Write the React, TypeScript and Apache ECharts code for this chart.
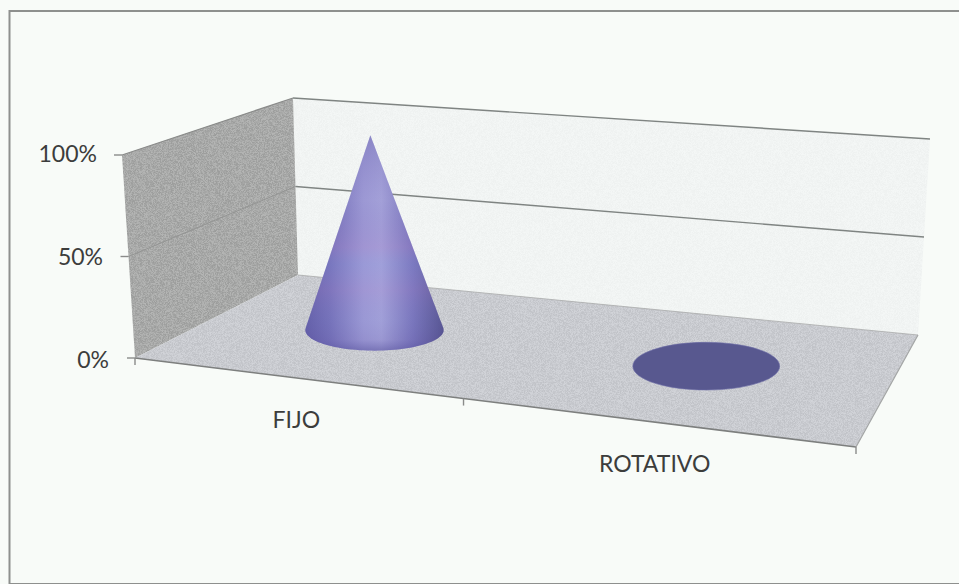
import React, { useEffect, useRef } from "react";
import * as echarts from "echarts";

const categories = ["FIJO", "ROTATIVO"];
const shares = [1, 0];
const yTicks = [0, 0.5, 1];

const PAPER = "#f8fbf8";
const FONT = "Lato, 'Open Sans', sans-serif";
const INK = "#3c3d3c";

// Layout of the printed 3-D box: floor corners and the height vector at each corner.
const FL = [135, 358], FR = [856, 447], BR = [918, 335], BL = [298, 275];
const H_FL = [-13, -203], H_FR = [25, -222], H_BR = [12, -196], H_BL = [-5, -177];

const dx1 = FR[0] - BR[0], dx2 = BL[0] - BR[0], sx = FL[0] - FR[0] + BR[0] - BL[0];
const dy1 = FR[1] - BR[1], dy2 = BL[1] - BR[1], sy = FL[1] - FR[1] + BR[1] - BL[1];
const den = dx1 * dy2 - dx2 * dy1;
const g = (sx * dy2 - dx2 * sy) / den, h = (dx1 * sy - sx * dy1) / den;
const a = FR[0] - FL[0] + g * FR[0], b = BL[0] - FL[0] + h * BL[0];
const d = FR[1] - FL[1] + g * FR[1], e = BL[1] - FL[1] + h * BL[1];

function floor(u: number, w: number) {
  const k = g * u + h * w + 1;
  return [(a * u + b * w + FL[0]) / k, (d * u + e * w + FL[1]) / k];
}
function project(u: number, w: number, v: number) {
  const p = floor(u, w);
  const hx = (1 - u) * ((1 - w) * H_FL[0] + w * H_BL[0]) + u * ((1 - w) * H_FR[0] + w * H_BR[0]);
  const hy = (1 - u) * ((1 - w) * H_FL[1] + w * H_BL[1]) + u * ((1 - w) * H_FR[1] + w * H_BR[1]);
  return [p[0] + hx * v, p[1] + hy * v];
}

const GRID = { left: 135, top: 155, width: 721, height: 203 };

// Scanner-grain fill, a fixed pattern from a small congruential sequence.
function grain(base: number[], amp: number, seedStart: number) {
  const size = 96;
  const c = document.createElement("canvas");
  c.width = size;
  c.height = size;
  const ctx = c.getContext("2d")!;
  const img = ctx.createImageData(size, size);
  let seed = seedStart;
  for (let i = 0; i < size * size; i++) {
    seed = (seed * 1664525 + 1013904223) % 4294967296;
    const n = (seed / 4294967296 - 0.5) * 2 * amp;
    img.data[i * 4] = base[0] + n;
    img.data[i * 4 + 1] = base[1] + n;
    img.data[i * 4 + 2] = base[2] + n;
    img.data[i * 4 + 3] = 255;
  }
  ctx.putImageData(img, 0, 0);
  return { image: c, repeat: "repeat" };
}

let wallFill: any, floorFill: any, backFill: any;

function fractions(api: any, params: any, cat: number, val: number) {
  const c = api.coord([cat, val]);
  const s = params.coordSys;
  return [(c[0] - s.x) / s.width, (s.y + s.height - c[1]) / s.height];
}

const line = (p: number[], q: number[], stroke: string, lineWidth: number) => ({
  type: "line",
  shape: { x1: p[0], y1: p[1], x2: q[0], y2: q[1] },
  style: { stroke, lineWidth },
});
const poly = (points: number[][], fill: any) => ({
  type: "polygon",
  shape: { points },
  style: { fill, stroke: "none" },
});

function renderBox(params: any, api: any) {
  const children: any[] = [];
  children.push(poly([project(0, 1, 0), project(1, 1, 0), project(1, 1, 1), project(0, 1, 1)], backFill));
  children.push(poly([project(0, 0, 0), project(0, 1, 0), project(0, 1, 1), project(0, 0, 1)], wallFill));
  children.push(poly([project(0, 0, 0), project(1, 0, 0), project(1, 1, 0), project(0, 1, 0)], floorFill));
  yTicks.forEach((t) => {
    const v = fractions(api, params, 0, t)[1];
    if (v > 0) {
      children.push(line(project(0, 1, v), project(1, 1, v), "#7f8482", 1.4));
      children.push(line(project(0, 0, v), project(0, 1, v), v < 1 ? "#939493" : "#8a8b8a", v < 1 ? 1 : 1.2));
    }
    const front = project(0, 0, v);
    children.push(line([front[0] - 8, front[1]], front, "#8a8b8a", 1.4));
  });
  children.push(line(project(0, 0, 0), project(1, 0, 0), "#7d7f7e", 1.6));
  children.push(line(project(1, 0, 0), project(1, 1, 0), "#a3a5a5", 1.2));
  children.push(line(project(0, 1, 0), project(1, 1, 0), "#a8aaaa", 0.8));
  const band = api.size([1, 0])[0] / GRID.width;
  [0, band, 2 * band].forEach((u) => {
    const p = project(u, 0, 0);
    children.push(line(p, [p[0], p[1] + 7], "#8a8b8a", 1.4));
  });
  return { type: "group", children };
}

function renderCone(params: any, api: any) {
  const [u, v] = fractions(api, params, api.value(0), api.value(1));
  const base = project(u, 0.5, 0);
  const spread = 0.1185 - 0.022 * u;
  const left = floor(u - spread, 0.5), right = floor(u + spread, 0.5);
  const near = floor(u, 0.3), far = floor(u, 0.7);
  const rx = Math.abs(right[0] - left[0]) / 2;
  const ry = (Math.abs(near[1] - far[1]) / 2) * 1.16;
  const cx = base[0] + 4, cy = base[1] + 1;
  const top = project(u, 0.5, v);
  const ax = top[0] + 2, ay = top[1] + 1;
  const pq = [(ax - cx) / rx, (ay - cy) / ry];
  const dist = Math.hypot(pq[0], pq[1]);
  if (dist <= 1) {
    return {
      type: "ellipse",
      shape: { cx, cy, rx, ry },
      style: { fill: "#58588f", stroke: "#6b6ba6", lineWidth: 0.6 },
    };
  }
  const phi = Math.atan2(pq[1], pq[0]);
  const delta = Math.acos(1 / dist);
  const start = phi + delta, end = phi + 2 * Math.PI - delta;
  const points: number[][] = [[ax, ay]];
  for (let i = 0; i <= 60; i++) {
    const t = start + ((end - start) * i) / 60;
    points.push([cx + rx * Math.cos(t), cy + ry * Math.sin(t)]);
  }
  const shade = {
    type: "linear", x: 0, y: 0, x2: 1, y2: 0,
    colorStops: [
      { offset: 0, color: "#625ca6" },
      { offset: 0.18, color: "#7570b8" },
      { offset: 0.42, color: "#9c98d4" },
      { offset: 0.55, color: "#a3a0d8" },
      { offset: 0.78, color: "#7873ba" },
      { offset: 1, color: "#55518e" },
    ],
  };
  const bands = {
    type: "linear", x: 0, y: 0, x2: 0, y2: 1,
    colorStops: [
      { offset: 0, color: "rgba(90,85,160,0.3)" },
      { offset: 0.3, color: "rgba(120,110,190,0)" },
      { offset: 0.52, color: "rgba(175,135,205,0.22)" },
      { offset: 0.6, color: "rgba(140,160,230,0.15)" },
      { offset: 0.72, color: "rgba(175,140,210,0.18)" },
      { offset: 0.86, color: "rgba(130,150,220,0.08)" },
      { offset: 0.95, color: "rgba(90,85,165,0.12)" },
      { offset: 1, color: "rgba(80,75,150,0.5)" },
    ],
  };
  return { type: "group", children: [poly(points, shade), poly(points, bands)] };
}

function renderCategory(params: any, api: any) {
  const [u] = fractions(api, params, api.value(0), 0);
  const p = project(u, 0, 0);
  return {
    type: "text",
    style: {
      text: categories[api.value(0)],
      x: p[0] + 4,
      y: p[1] + 41.5,
      align: "center",
      verticalAlign: "middle",
      font: `23px ${FONT}`,
      fill: INK,
    },
  };
}

const tickStyle: Record<string, string> = { "100%": "far", "50%": "mid", "0%": "near" };
const labelBase = { fontSize: 23, fontFamily: FONT, color: INK };

export default function App() {
  const ref = useRef<HTMLDivElement>(null);
  useEffect(() => {
    wallFill = grain([168, 169, 168], 13, 11);
    floorFill = grain([201, 203, 208], 9, 23);
    backFill = grain([241, 244, 243], 3, 37);
    const chart = echarts.init(ref.current!, undefined, { renderer: "svg" });
    chart.setOption({
      animation: false,
      backgroundColor: PAPER,
      grid: { ...GRID, containLabel: false },
      xAxis: { type: "category", data: categories, show: false },
      yAxis: {
        type: "value",
        min: 0,
        max: 1,
        interval: 0.5,
        splitLine: { show: false },
        axisLine: { show: false },
        axisTick: { show: false },
        axisLabel: {
          margin: 26,
          formatter: (v: number) => {
            const s = `${Math.round(v * 100)}%`;
            return `{${tickStyle[s]}|${s}}`;
          },
          rich: {
            far: { ...labelBase, padding: [0, 12, 4, 0] },
            mid: { ...labelBase, padding: [0, 6, 2, 0] },
            near: { ...labelBase, padding: [2, 0, 0, 0] },
          },
        },
      },
      graphic: [
        {
          type: "rect",
          shape: { x: 9.5, y: 11, width: 975, height: 573 },
          style: { fill: "none", stroke: "#8e908e", lineWidth: 2 },
          silent: true,
        },
      ],
      series: [
        { type: "custom", coordinateSystem: "cartesian2d", silent: true, z: 1, data: [[0, 0]], renderItem: renderBox, clip: false },
        {
          type: "custom",
          name: "Share",
          coordinateSystem: "cartesian2d",
          silent: true,
          z: 2,
          data: categories.map((_, i) => [i, shares[i]]),
          renderItem: renderCone,
          clip: false,
        },
        {
          type: "custom",
          coordinateSystem: "cartesian2d",
          silent: true,
          z: 3,
          data: categories.map((_, i) => [i, 0]),
          renderItem: renderCategory,
          clip: false,
        },
      ],
    });
    return () => chart.dispose();
  }, []);
  return <div ref={ref} style={{ position: "fixed", left: 0, top: 0, width: 959, height: 584 }} />;
}
